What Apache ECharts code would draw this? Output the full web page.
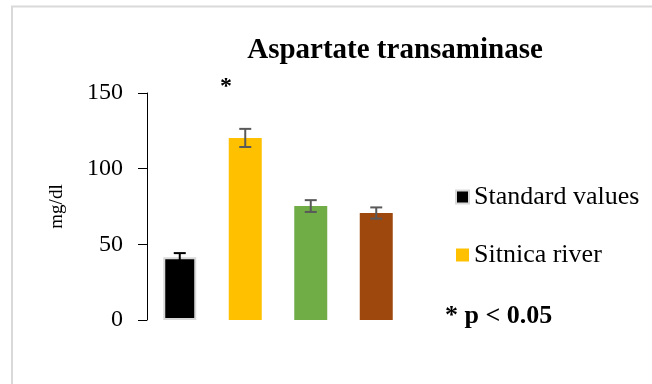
<!DOCTYPE html>
<html><head><meta charset="utf-8">
<script src="https://cdn.jsdelivr.net/npm/echarts@6/dist/echarts.min.js"></script>
<style>html,body{margin:0;padding:0;background:#fff}#c{width:652px;height:384px}</style>
</head><body><div id="c"></div>
<script>
const categories = ['Standard values', 'Sitnica river', 'Group 3', 'Group 4'];
const values = [41.5, 120.3, 75.3, 70.7];
const errors = [2.7, 6.0, 3.9, 3.7];
const barColors = ['#000000', '#FFC000', '#70AD47', '#9E480E'];
const errColors = ['#000000', '#595959', '#595959', '#595959'];
const yTicks = [0, 50, 100, 150];
const legendNames = ['Standard values', 'Sitnica river'];
const FONT = 'Liberation Serif';

const chart = echarts.init(document.getElementById('c'), null, {renderer: 'canvas'});

const barSeries = categories.map((name, i) => ({
  name: name,
  type: 'bar',
  barWidth: 33,
  barGap: '-100%',
  data: categories.map((c, j) => j === i ? values[i] : '-'),
  itemStyle: i === 0
    ? {color: barColors[i], borderColor: '#d9d9d9', borderWidth: 2}
    : {color: barColors[i]},
  emphasis: {disabled: true},
  z: 2
}));

const errData = categories.map((c, i) => [i, values[i] - errors[i], values[i] + errors[i]]);

const errSeries = {
  type: 'custom',
  name: 'err',
  data: errData,
  z: 5,
  renderItem: function (params, api) {
    const idx = api.value(0);
    const lo = api.coord([idx, api.value(1)]);
    const hi = api.coord([idx, api.value(2)]);
    const cw = 6;
    const col = errColors[params.dataIndex];
    const st = {stroke: col, lineWidth: 2};
    return {
      type: 'group',
      children: [
        {type: 'line', shape: {x1: hi[0], y1: hi[1], x2: lo[0], y2: lo[1]}, style: st},
        {type: 'line', shape: {x1: hi[0] - cw, y1: hi[1], x2: hi[0] + cw, y2: hi[1]}, style: st},
        {type: 'line', shape: {x1: lo[0] - cw, y1: lo[1], x2: lo[0] + cw, y2: lo[1]}, style: st}
      ]
    };
  }
};

chart.setOption({
  animation: false,
  backgroundColor: '#ffffff',
  textStyle: {fontFamily: FONT},
  title: {
    text: 'Aspartate transaminase',
    left: 390, top: 31, textAlign: 'center',
    textStyle: {fontFamily: FONT, fontWeight: 'bold', fontSize: 29, color: '#000'}
  },
  legend: {
    data: legendNames,
    orient: 'vertical',
    left: 450, top: 177,
    itemWidth: 13, itemHeight: 13,
    itemGap: 28,
    icon: 'rect',
    selectedMode: false,
    textStyle: {fontFamily: FONT, fontSize: 26, color: '#000', lineHeight: 30}
  },
  grid: {left: 147, right: 243, top: 93, bottom: 64},
  xAxis: {
    type: 'category',
    data: categories,
    axisLine: {show: false},
    axisTick: {show: false},
    axisLabel: {show: false}
  },
  yAxis: {
    type: 'value',
    min: yTicks[0], max: yTicks[yTicks.length - 1], interval: 50,
    name: 'mg/dl',
    nameLocation: 'middle',
    nameGap: 80,
    nameTextStyle: {fontFamily: FONT, fontSize: 19, color: '#000'},
    axisLine: {show: true, lineStyle: {color: '#000', width: 1}},
    axisTick: {show: true, length: 9, lineStyle: {color: '#000'}},
    axisLabel: {fontFamily: FONT, fontSize: 24, color: '#000', margin: 24},
    splitLine: {show: false}
  },
  graphic: [
    {type: 'rect', shape: {x: 12, y: 6.5, width: 800, height: 600},
     style: {fill: 'none', stroke: '#d9d9d9', lineWidth: 2}, silent: true},
    {type: 'text', x: 226, y: 87,
     style: {text: '*', font: 'bold 24px ' + FONT, fill: '#000', align: 'center', verticalAlign: 'middle'}},
    {type: 'text', x: 445, y: 316,
     style: {text: '* p < 0.05', font: 'bold 26px ' + FONT, fill: '#000', align: 'left', verticalAlign: 'middle'}}
  ],
  series: barSeries.concat([errSeries])
});
</script></body></html>
